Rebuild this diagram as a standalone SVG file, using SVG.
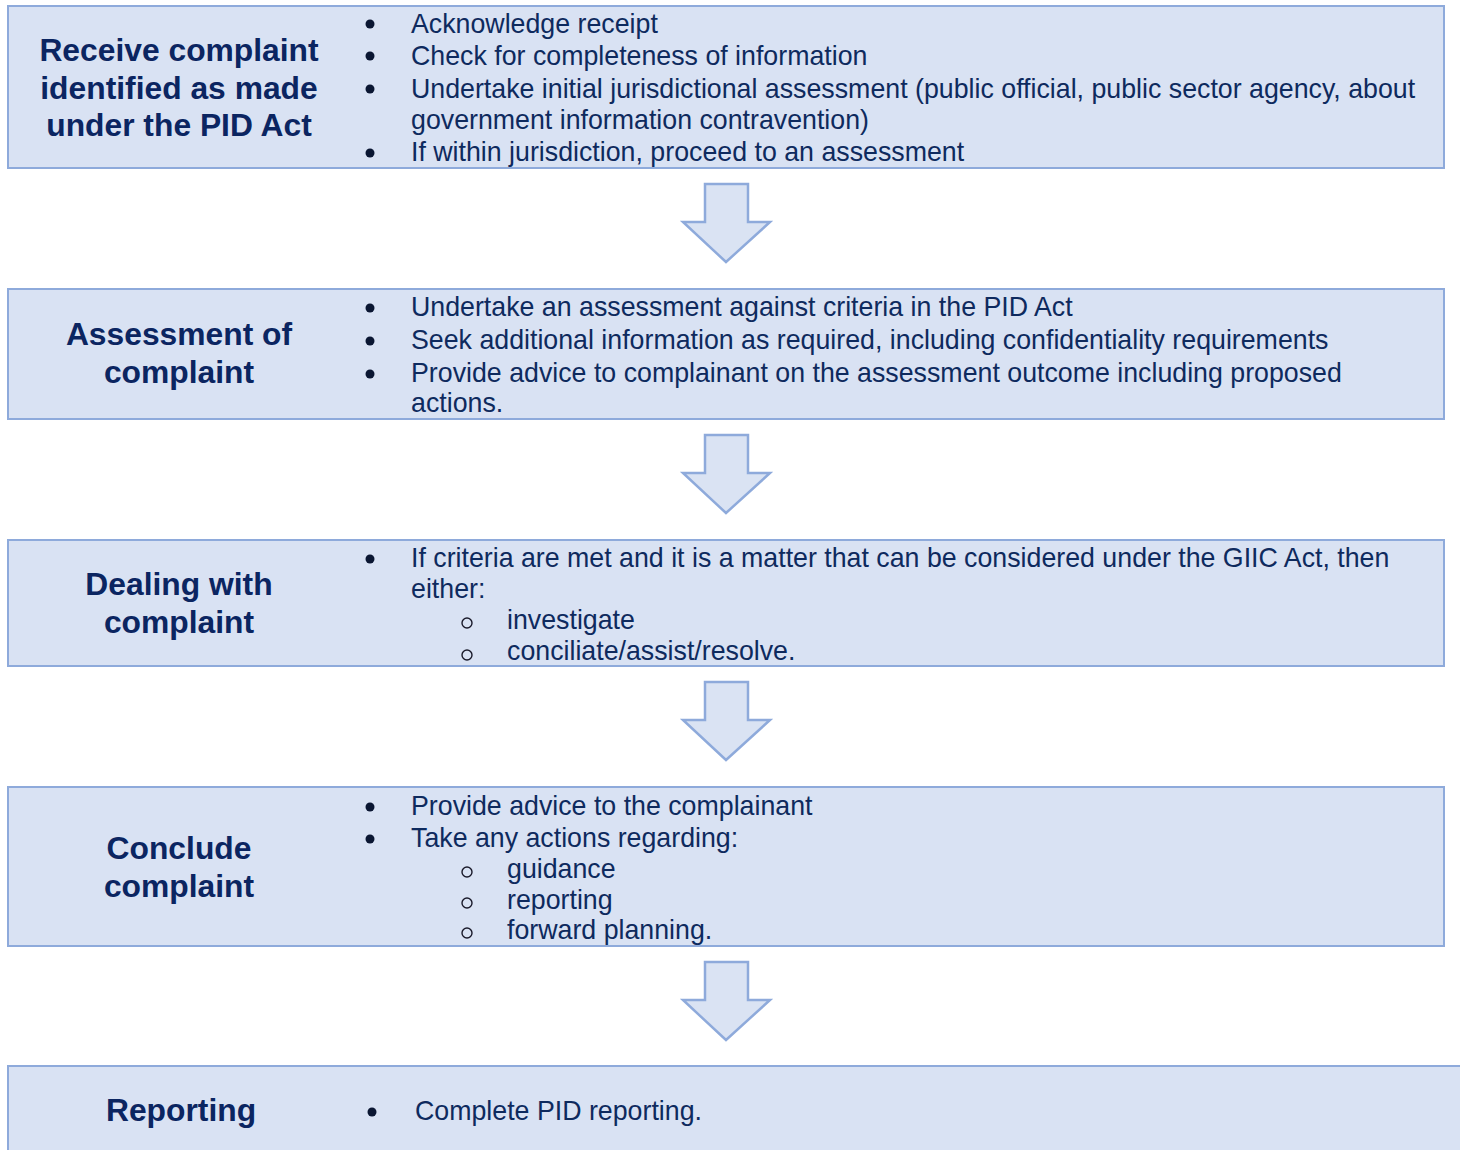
<svg xmlns="http://www.w3.org/2000/svg" width="1460" height="1150" viewBox="0 0 1460 1150">
  <style>
    .box { fill: #D9E2F3; stroke: #8EAADB; stroke-width: 2; }
    .title { font-family: "Liberation Sans", Arial, sans-serif; font-weight: bold; font-size: 31.8px; fill: #0B2561; text-anchor: middle; }
    .body { font-family: "Liberation Sans", Arial, sans-serif; font-size: 26.75px; fill: #0E2A5E; }
    .dot { fill: #0A1632; }
    .ring { fill: none; stroke: #1A1A2A; stroke-width: 1.4; }
    .arrow { fill: #DAE3F3; stroke: #8EAADB; stroke-width: 2.5; stroke-linejoin: miter; }
  </style>
  <defs>
    <path id="down" d="M705,184 H748 V222 H770 L726,262 L683,222 H705 Z"/>
  </defs>
  <rect width="1460" height="1150" fill="#FFFFFF"/>

  <g id="connectors">
    <use href="#down" class="arrow"/>
    <use href="#down" class="arrow" y="251"/>
    <use href="#down" class="arrow" y="498"/>
    <use href="#down" class="arrow" y="778"/>
  </g>

  <g id="receive">
    <rect class="box" x="8" y="6" width="1436" height="162"/>
    <text class="title" x="179" y="61">Receive complaint</text>
    <text class="title" x="179" y="99">identified as made</text>
    <text class="title" x="179" y="136">under the PID Act</text>
    <circle class="dot" cx="370" cy="24" r="4.5"/>
    <circle class="dot" cx="370" cy="56" r="4.5"/>
    <circle class="dot" cx="370" cy="89" r="4.5"/>
    <circle class="dot" cx="370" cy="153" r="4.5"/>
    <text class="body" x="411" y="33">Acknowledge receipt</text>
    <text class="body" x="411" y="65">Check for completeness of information</text>
    <text class="body" x="411" y="98">Undertake initial jurisdictional assessment (public official, public sector agency, about</text>
    <text class="body" x="411" y="129">government information contravention)</text>
    <text class="body" x="411" y="161">If within jurisdiction, proceed to an assessment</text>
  </g>

  <g id="assessment">
    <rect class="box" x="8" y="289" width="1436" height="130"/>
    <text class="title" x="179" y="345">Assessment of</text>
    <text class="title" x="179" y="383">complaint</text>
    <circle class="dot" cx="370" cy="308" r="4.5"/>
    <circle class="dot" cx="370" cy="341" r="4.5"/>
    <circle class="dot" cx="370" cy="374" r="4.5"/>
    <text class="body" x="411" y="316">Undertake an assessment against criteria in the PID Act</text>
    <text class="body" x="411" y="349">Seek additional information as required, including confidentiality requirements</text>
    <text class="body" x="411" y="382">Provide advice to complainant on the assessment outcome including proposed</text>
    <text class="body" x="411" y="412">actions.</text>
  </g>

  <g id="dealing">
    <rect class="box" x="8" y="540" width="1436" height="126"/>
    <text class="title" x="179" y="595">Dealing with</text>
    <text class="title" x="179" y="633">complaint</text>
    <circle class="dot" cx="370" cy="559" r="4.5"/>
    <circle class="ring" cx="467" cy="623" r="5"/>
    <circle class="ring" cx="467" cy="655" r="5"/>
    <text class="body" x="411" y="567">If criteria are met and it is a matter that can be considered under the GIIC Act, then</text>
    <text class="body" x="411" y="598">either:</text>
    <text class="body" x="507" y="629">investigate</text>
    <text class="body" x="507" y="660">conciliate/assist/resolve.</text>
  </g>

  <g id="conclude">
    <rect class="box" x="8" y="787" width="1436" height="159"/>
    <text class="title" x="179" y="859">Conclude</text>
    <text class="title" x="179" y="897">complaint</text>
    <circle class="dot" cx="370" cy="807" r="4.5"/>
    <circle class="dot" cx="370" cy="839" r="4.5"/>
    <circle class="ring" cx="467" cy="872" r="5"/>
    <circle class="ring" cx="467" cy="903" r="5"/>
    <circle class="ring" cx="467" cy="933" r="5"/>
    <text class="body" x="411" y="815">Provide advice to the complainant</text>
    <text class="body" x="411" y="847">Take any actions regarding:</text>
    <text class="body" x="507" y="878">guidance</text>
    <text class="body" x="507" y="909">reporting</text>
    <text class="body" x="507" y="939">forward planning.</text>
  </g>

  <g id="reporting">
    <rect class="box" x="8" y="1066" width="1460" height="100"/>
    <text class="title" x="181" y="1121">Reporting</text>
    <circle class="dot" cx="372" cy="1112" r="4.5"/>
    <text class="body" x="415" y="1120">Complete PID reporting.</text>
  </g>
</svg>
